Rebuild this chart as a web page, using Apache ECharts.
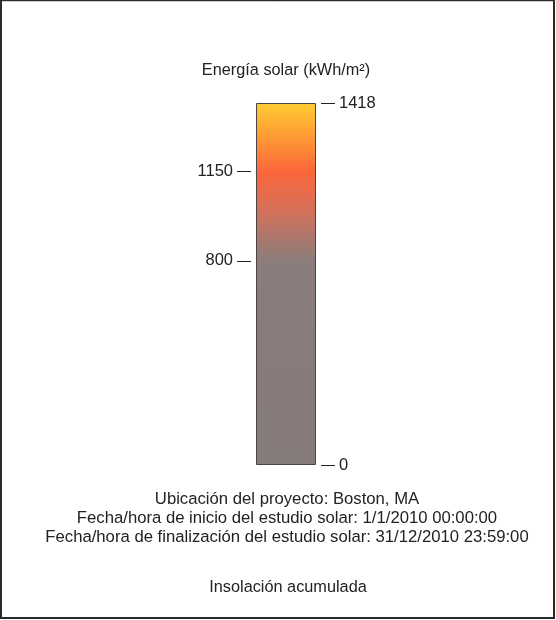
<!DOCTYPE html>
<html>
<head>
<meta charset="utf-8">
<script src="https://cdn.jsdelivr.net/npm/echarts@6/dist/echarts.min.js"></script>
<style>html,body{margin:0;padding:0;background:#fff;}#c{width:556px;height:620px;}</style>
</head>
<body>
<div id="c"></div>
<script>
// Data
var scaleMin = 0;
var scaleMax = 1418;
var leftTickValues = [800, 1150];
var rightTickValues = [0, 1418];
var stopValues = [0, 800, 1000, 1150, 1300, 1418];
var stopColors = ['#857B7A', '#8A7D7B', '#D6705A', '#FB673A', '#FFA033', '#FFCC35'];
var titleText = 'Energía solar (kWh/m²)';
var infoLines = [
  'Ubicación del proyecto: Boston, MA',
  'Fecha/hora de inicio del estudio solar: 1/1/2010 00:00:00',
  'Fecha/hora de finalización del estudio solar: 31/12/2010 23:59:00'
];
var footerText = 'Insolación acumulada';

var chart = echarts.init(document.getElementById('c'), null, {renderer: 'canvas'});
var FONT = 'Liberation Sans, Arial, sans-serif';

var colorStops = stopValues.map(function (v, i) {
  return {offset: (scaleMax - v) / (scaleMax - scaleMin), color: stopColors[i]};
}).sort(function (a, b) { return a.offset - b.offset; });

var axisCommon = function (pos, vals) {
  return {
    type: 'value', position: pos, min: scaleMin, max: scaleMax, offset: 5,
    splitLine: {show: false},
    axisLine: {show: false},
    axisTick: {show: true, inside: false, length: 14, customValues: vals, lineStyle: {color: '#222', width: 1}},
    axisLabel: {show: true, customValues: vals, margin: 18, color: '#222', fontSize: 16.5, fontFamily: FONT,
      formatter: function (v) { return String(v); }}
  };
};

var graphics = [
  {type: 'rect', shape: {x: 1, y: 1, width: 553, height: 617}, style: {fill: 'none', stroke: '#2a2a2a', lineWidth: 2}, silent: true},
  {type: 'line', shape: {x1: 2, y1: 1.5, x2: 553, y2: 1.5}, style: {stroke: '#d0d0d0', lineWidth: 1}, silent: true},
  {type: 'text', x: 286, y: 71, style: {text: titleText, textAlign: 'center', textVerticalAlign: 'middle', fill: '#222', font: '16.3px ' + FONT}},
  {type: 'text', x: 288, y: 588, style: {text: footerText, textAlign: 'center', textVerticalAlign: 'middle', fill: '#222', font: '16.3px ' + FONT}}
];
var lineYs = [499, 518, 537];
infoLines.forEach(function (t, i) {
  graphics.push({type: 'text', x: 287, y: lineYs[i], style: {text: t, textAlign: 'center', textVerticalAlign: 'middle', fill: '#222', font: '16.7px ' + FONT}});
});

chart.setOption({
  animation: false,
  backgroundColor: '#fff',
  grid: {left: 256, right: 240, top: 103, bottom: 155, containLabel: false},
  xAxis: {type: 'category', data: ['bar'], show: false},
  yAxis: [axisCommon('left', leftTickValues), axisCommon('right', rightTickValues)],
  series: [{
    type: 'bar',
    data: [scaleMax],
    barWidth: '100%',
    itemStyle: {
      color: new echarts.graphic.LinearGradient(0, 0, 0, 1, colorStops),
      borderColor: '#4a4444',
      borderWidth: 1
    }
  }],
  graphic: graphics
});
</script>
</body>
</html>
